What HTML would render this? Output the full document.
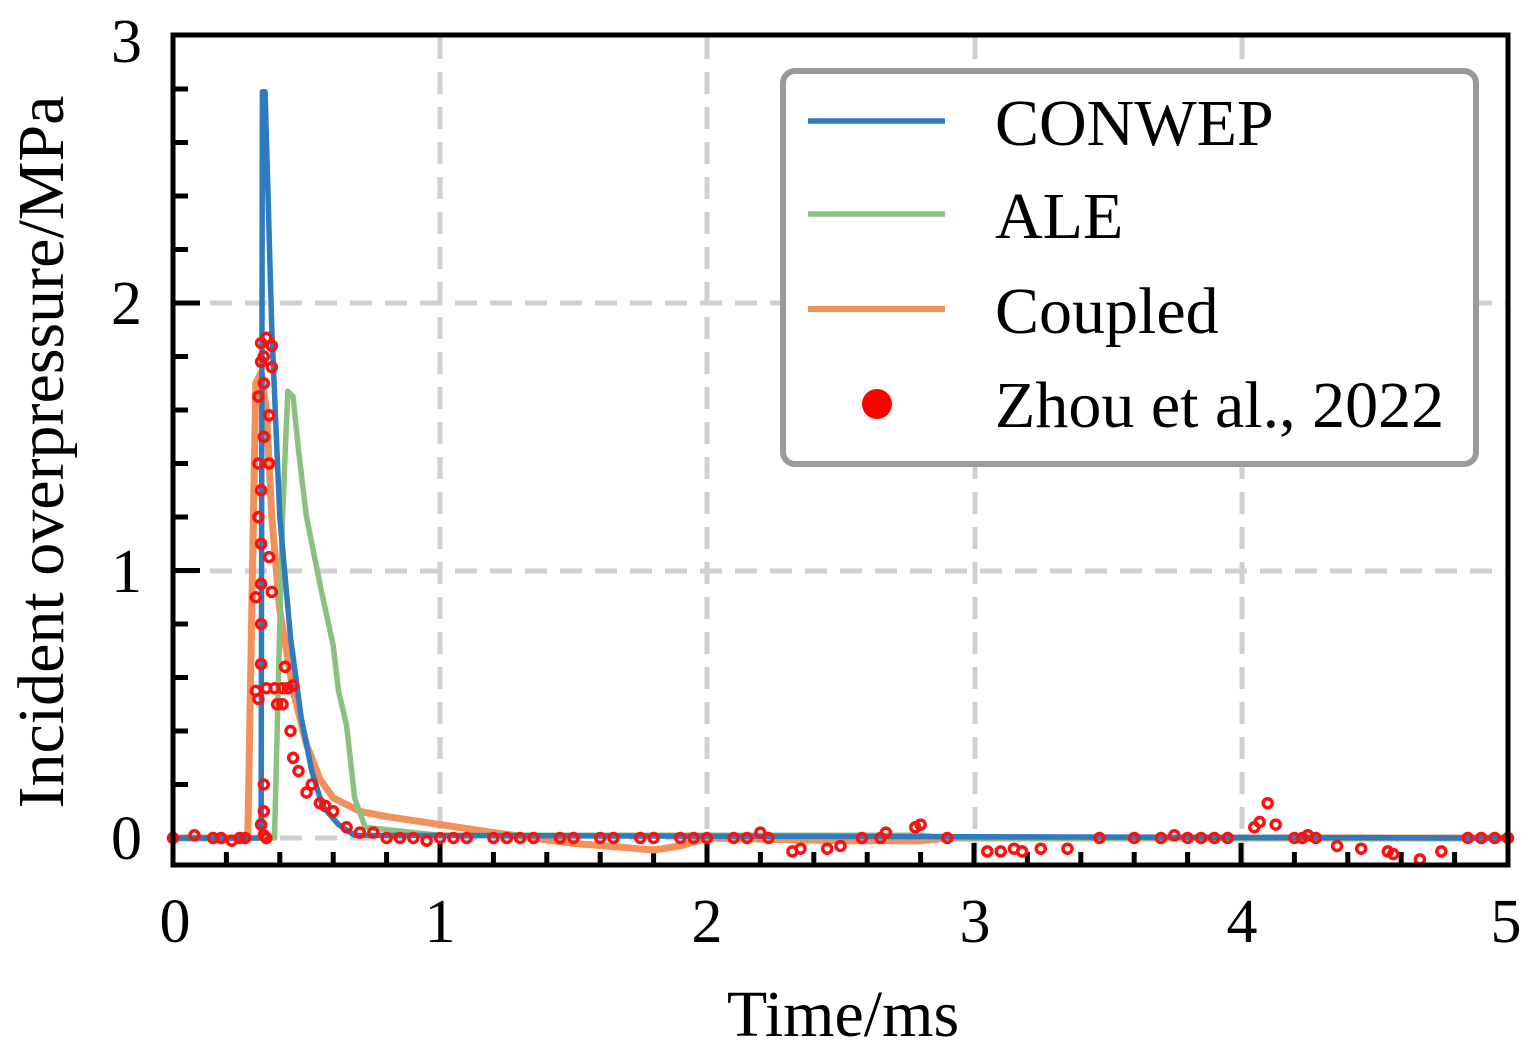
<!DOCTYPE html>
<html><head><meta charset="utf-8"><style>
html,body{margin:0;padding:0;background:#fff;}
svg{display:block;}
text{font-family:"Liberation Serif",serif;fill:#000;}
</style></head><body>
<svg id="s" width="1533" height="1050" viewBox="0 0 1533 1050" xmlns="http://www.w3.org/2000/svg">
<g stroke="#d0d0d0" stroke-width="5" stroke-dasharray="22,13" fill="none">
<line x1="440" y1="37" x2="440" y2="865"/>
<line x1="707" y1="37" x2="707" y2="865"/>
<line x1="975" y1="37" x2="975" y2="865"/>
<line x1="1242" y1="37" x2="1242" y2="865"/>
<line x1="175" y1="838" x2="1508" y2="838"/>
<line x1="175" y1="571" x2="1508" y2="571"/>
<line x1="175" y1="303" x2="1508" y2="303"/>
</g>
<g id="ticks" stroke="#000" stroke-width="5"></g>
<g fill="none" stroke-linejoin="round">
<path id="orange" stroke="#f4905a" stroke-width="7"/>
<path id="green" stroke="#8dbf7e" stroke-width="5.5"/>
<path id="blue" stroke="#2e7bbf" stroke-width="5.5"/>
</g>
<g id="pts" fill="none" stroke="#ff1010" stroke-width="3.5"></g>
<rect x="173" y="35" width="1335" height="830" fill="none" stroke="#000" stroke-width="5"/>
<rect x="783" y="71" width="693" height="393" rx="12" fill="#fff" stroke="#9a9a9a" stroke-width="6"/>
<line x1="808" y1="121" x2="945" y2="121" stroke="#2e7bbf" stroke-width="5.5"/>
<line x1="808" y1="214" x2="945" y2="214" stroke="#8dbf7e" stroke-width="5.5"/>
<line x1="808" y1="309" x2="945" y2="309" stroke="#f4905a" stroke-width="6"/>
<circle cx="877" cy="404" r="15" fill="#ff0000"/>
<g font-size="66">
<text x="995" y="145">CONWEP</text>
<text x="995" y="238">ALE</text>
<text x="995" y="333">Coupled</text>
<text x="995" y="427">Zhou et al., 2022</text>
</g>
<g font-size="62" text-anchor="end">
<text x="142" y="62">3</text>
<text x="142" y="324">2</text>
<text x="142" y="592">1</text>
<text x="142" y="859">0</text>
</g>
<g font-size="62" text-anchor="middle">
<text x="175" y="942">0</text>
<text x="440" y="942">1</text>
<text x="707" y="942">2</text>
<text x="975" y="942">3</text>
<text x="1242" y="942">4</text>
<text x="1506" y="942">5</text>
</g>
<text x="843" y="1036" font-size="66" text-anchor="middle">Time/ms</text>
<text transform="translate(63,452) rotate(-90)" font-size="66" text-anchor="middle">Incident overpressure/MPa</text>
</svg>
<script>
var X=function(t){return 173+267*t},Y=function(p){return 838-267.5*p};
function path(a){return a.map(function(q,i){return (i?'L':'M')+X(q[0]).toFixed(1)+' '+Y(q[1]).toFixed(1)}).join(' ')}
document.getElementById('blue').setAttribute('d',path([[0,0],[0.33,0],[0.335,2.79],[0.345,2.79],[0.37,1.9],[0.4,1.2],[0.44,0.75],[0.48,0.45],[0.52,0.25],[0.56,0.12],[0.62,0.05],[0.68,0.01],[5,0]]));
document.getElementById('green').setAttribute('d',path([[0,0],[0.38,0],[0.41,1.2],[0.43,1.67],[0.45,1.65],[0.47,1.45],[0.5,1.2],[0.55,0.95],[0.6,0.72],[0.62,0.55],[0.65,0.42],[0.68,0.15],[0.72,0.04],[1,0.01],[2.8,0.01],[2.9,0],[5,0]]));
document.getElementById('orange').setAttribute('d',path([[0,0],[0.28,0],[0.31,1.7],[0.33,1.74],[0.35,1.6],[0.37,1.2],[0.4,0.85],[0.45,0.55],[0.5,0.35],[0.55,0.22],[0.6,0.15],[0.7,0.1],[0.8,0.08],[1,0.05],[1.2,0.02],[1.5,-0.02],[1.8,-0.045],[1.9,-0.03],[2,0],[2.5,-0.01],[2.8,-0.01],[2.9,0],[5,0]]));
var tk=document.getElementById('ticks'),h='';
for(var i=1;i<25;i++){var x=X(i*0.2),L=(i%5==0)?22:13;h+='<line x1="'+x+'" y1="865" x2="'+x+'" y2="'+(865-L)+'"/>';}
for(var j=1;j<15;j++){var y=Y(j*0.2),L=(j%5==0)?27:15;h+='<line x1="173" y1="'+y+'" x2="'+(173+L)+'" y2="'+y+'"/>';}
tk.innerHTML=h;
var P=[[0,0],[0.08,0.01],[0.15,0],[0.18,0],[0.22,-0.01],[0.25,0],[0.27,0],
[0.31,0.55],[0.31,0.9],[0.32,1.2],[0.32,1.4],[0.32,1.65],[0.33,1.85],[0.33,1.78],[0.34,1.8],[0.34,1.7],[0.34,1.5],[0.33,1.3],[0.33,1.1],[0.33,0.95],[0.33,0.8],[0.33,0.65],[0.32,0.52],[0.34,0.2],[0.34,0.1],[0.33,0.05],[0.34,0.01],[0.35,0],
[0.35,1.87],[0.37,1.84],[0.37,1.76],[0.36,1.58],[0.36,1.4],[0.36,1.05],[0.37,0.92],[0.35,0.56],[0.38,0.56],[0.41,0.56],[0.39,0.5],[0.41,0.5],[0.43,0.56],[0.42,0.64],[0.45,0.57],[0.44,0.4],[0.45,0.3],[0.47,0.25],
[0.5,0.17],[0.52,0.2],[0.55,0.13],[0.57,0.12],[0.6,0.1],[0.65,0.04],[0.7,0.02],[0.75,0.02],[0.8,0],[0.85,0],[0.9,0],[0.95,-0.01],[1.0,0],[1.05,0],[1.1,0],[1.2,0],[1.25,0],[1.3,0],[1.35,0],[1.45,0],[1.5,0],[1.6,0],[1.65,0],[1.75,0],[1.8,0],[1.9,0],[1.95,0],[2.0,0],
[2.1,0],[2.15,0],[2.2,0.02],[2.23,0],[2.32,-0.05],[2.35,-0.04],[2.45,-0.04],[2.5,-0.03],[2.58,0],[2.65,0],[2.67,0.02],[2.78,0.04],[2.8,0.05],[2.9,0],[3.05,-0.05],[3.1,-0.05],[3.15,-0.04],[3.18,-0.05],[3.25,-0.04],[3.35,-0.04],[3.47,0],[3.6,0],[3.7,0],[3.75,0.01],[3.8,0],[3.85,0],[3.9,0],[3.95,0],
[4.05,0.04],[4.07,0.06],[4.1,0.13],[4.13,0.05],[4.2,0],[4.23,0],[4.25,0.01],[4.28,0],[4.36,-0.03],[4.45,-0.04],[4.55,-0.05],[4.57,-0.06],[4.67,-0.08],[4.75,-0.05],[4.85,0],[4.9,0],[4.95,0],[5,0]];
var s='';P.forEach(function(q){s+='<circle cx="'+X(q[0]).toFixed(1)+'" cy="'+Y(q[1]).toFixed(1)+'" r="4.5"/>';});
document.getElementById('pts').innerHTML=s;
</script>
</body></html>
